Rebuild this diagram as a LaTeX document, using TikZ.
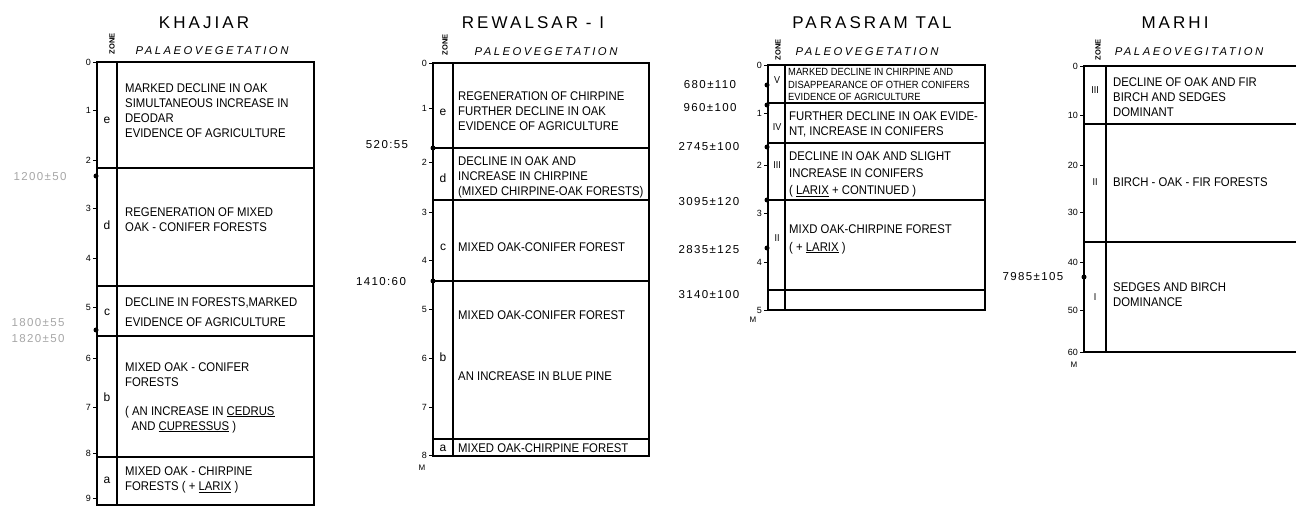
\documentclass[tikz,border=0pt]{standalone}
\usepackage{fontspec}
\setmainfont{Liberation Sans}
\newfontfamily\titlefont[LetterSpace=18]{Liberation Sans}
\newfontfamily\vegfont[LetterSpace=22]{Liberation Sans}
\newfontfamily\datefont[LetterSpace=12]{Liberation Sans}
\newfontfamily\bodyfont[FakeStretch=0.9]{Liberation Sans}
\begin{document}
\begin{tikzpicture}[x=1pt,y=-1pt,
  box/.style={line width=1.3pt},
  title/.style={font=\titlefont\fontsize{17}{19}\selectfont, inner sep=0},
  veg/.style={font=\vegfont\itshape\fontsize{11.3}{13}\selectfont, inner sep=0},
  zonelab/.style={font=\bfseries\fontsize{7.5}{8}\selectfont, rotate=90, inner sep=0},
  tl/.style={font=\fontsize{9}{10}\selectfont, anchor=east, inner sep=0},
  zl/.style={font=\fontsize{12}{13}\selectfont, inner sep=0},
  szl/.style={font=\bodyfont\fontsize{10}{11}\selectfont, inner sep=0},
  txt/.style={font=\bodyfont\fontsize{12.6}{15}\selectfont, anchor=west, align=left, inner sep=0},
  stxt/.style={font=\bodyfont\fontsize{10.4}{12.5}\selectfont, anchor=west, align=left, inner sep=0},
  date/.style={font=\datefont\fontsize{11.5}{12}\selectfont, inner sep=0},
  fdate/.style={date, text=black!35},
  dot/.style={circle, fill, inner sep=0, minimum size=5pt},
  mlab/.style={font=\fontsize{8}{9}\selectfont, inner sep=0}]
\useasboundingbox (0,0) rectangle (1298,510);

% ================= KHAJIAR =================
\node[title] (t1) at (204,23) {KHAJIAR};
\node[zonelab] (z1) at (112,44) {ZONE};
\node[veg] (v1) at (212,51) {PALAEOVEGETATION};
\draw[box] (97,62) rectangle (314,505);
\draw[box] (117,62) -- (117,505);
\foreach \y in {168,286,336,457} \draw[box] (97,\y) -- (314,\y);
\foreach \y/\l [count=\i] in {62/0,110/1,160/2,208/3,258/4,307/5,358/6,407/7,453/8,498/9}{
  \draw[line width=0.8pt] (93,\y) -- (97,\y);
  \node[tl] (kt\i) at (91,\y) {\l};
}
\node[zl] (kz5) at (107,120) {e};
\node[zl] (kz4) at (107,225) {d};
\node[zl] (kz3) at (107,312) {c};
\node[zl] (kz2) at (107,397) {b};
\node[zl] (kz1) at (107,480) {a};
\node[txt] (kv5) at (125,110.5) {MARKED DECLINE IN OAK\\SIMULTANEOUS INCREASE IN\\DEODAR\\EVIDENCE OF AGRICULTURE};
\node[txt] (kv4) at (125,219.5) {REGENERATION OF MIXED\\OAK - CONIFER FORESTS};
\node[txt, font=\bodyfont\fontsize{12.6}{20}\selectfont] (kv3) at (125,312) {DECLINE IN FORESTS,MARKED\\EVIDENCE OF AGRICULTURE};
\node[txt] (kv2) at (125,397.5) {MIXED OAK - CONIFER\\FORESTS\\[14pt]( AN INCREASE IN \underline{CEDRUS}\\\ \ AND \underline{CUPRESSUS} )};
\node[txt] (kv1) at (125,480) {MIXED OAK - CHIRPINE\\FORESTS ( + \underline{LARIX} )};
\node[fdate] (kd1) at (40,177) {1200±50};
\node[fdate] (kd2) at (38,323) {1800±55};
\node[fdate] (kd3) at (38,339) {1820±50};
\node[dot] (kp1) at (96,176) {};
\node[dot] (kp2) at (96,330) {};

% ================= REWALSAR-I =================
\node[title] (t2) at (533,23) {REWALSAR - I};
\node[zonelab] (z2) at (445,45) {ZONE};
\node[veg] (v2) at (546,52) {PALEOVEGETATION};
\draw[box] (433,63) rectangle (649,456);
\draw[box] (453,63) -- (453,456);
\foreach \y in {148,200,281,439} \draw[box] (433,\y) -- (649,\y);
\foreach \y/\l [count=\i] in {63/0,108/1,162/2,212/3,260/4,309/5,358/6,407/7,455/8}{
  \draw[line width=0.8pt] (429,\y) -- (433,\y);
  \node[tl] (rt\i) at (427,\y) {\l};
}
\node[mlab] (rm) at (422,468) {M};
\node[zl] (rz5) at (443,112) {e};
\node[zl] (rz4) at (443,178) {d};
\node[zl] (rz3) at (443,247) {c};
\node[zl] (rz2) at (443,357) {b};
\node[zl] (rz1) at (443,448) {a};
\node[txt] (rv5) at (458,111.5) {REGENERATION OF CHIRPINE\\FURTHER DECLINE IN OAK\\EVIDENCE OF AGRICULTURE};
\node[txt] (rv4) at (458,177.5) {DECLINE IN OAK AND\\INCREASE IN CHIRPINE\\(MIXED CHIRPINE-OAK FORESTS)};
\node[txt] (rv3) at (458,247) {MIXED OAK-CONIFER FOREST};
\node[txt] (rv2a) at (458,315) {MIXED OAK-CONIFER FOREST};
\node[txt] (rv2b) at (458,376) {AN INCREASE IN BLUE PINE};
\node[txt] (rv1) at (458,448) {MIXED OAK-CHIRPINE FOREST};
\node[date] (rd1) at (387,145) {520:55};
\node[date] (rd2) at (381,282) {1410:60};
\node[dot] (rp1) at (433,148) {};
\node[dot] (rp2) at (433,281) {};

% ================= PARASRAM TAL =================
\node[title] (t3) at (872,23) {PARASRAM TAL};
\node[zonelab] (z3) at (778,50) {ZONE};
\node[veg] (v3) at (867,52) {PALEOVEGETATION};
\draw[box] (768,65) rectangle (985,310);
\draw[box] (785,65) -- (785,310);
\foreach \y in {103,143,200,290} \draw[box] (768,\y) -- (985,\y);
\foreach \y/\l [count=\i] in {65/0,113/1,165/2,213/3,262/4,310/5}{
  \draw[line width=0.8pt] (764,\y) -- (768,\y);
  \node[tl] (pt\i) at (762,\y) {\l};
}
\node[mlab] (pm) at (753,320) {M};
\node[szl] (pz5) at (777,80) {V};
\node[szl] (pz4) at (777,127) {IV};
\node[szl] (pz3) at (777,165) {III};
\node[szl] (pz2) at (777,238) {II};
\node[stxt] (pv5) at (788,84.5) {MARKED DECLINE IN CHIRPINE AND\\DISAPPEARANCE OF OTHER CONIFERS\\EVIDENCE OF AGRICULTURE};
\node[txt] (pv4) at (789,124.5) {FURTHER DECLINE IN OAK EVIDE-\\NT, INCREASE IN CONIFERS};
\node[txt, font=\bodyfont\fontsize{12.6}{17}\selectfont] (pv3) at (789,174.5) {DECLINE IN OAK AND SLIGHT\\INCREASE IN CONIFERS\\( \underline{LARIX} + CONTINUED )};
\node[txt, font=\bodyfont\fontsize{12.6}{18}\selectfont] (pv2) at (789,239) {MIXD OAK-CHIRPINE FOREST\\( + \underline{LARIX} )};
\node[date] (pd1) at (710,85) {680±110};
\node[date] (pd2) at (710,108) {960±100};
\node[date] (pd3) at (709,147) {2745±100};
\node[date] (pd4) at (709,202) {3095±120};
\node[date] (pd5) at (709,250) {2835±125};
\node[date] (pd6) at (709,295) {3140±100};
\node[dot] (pp1) at (767,85) {};
\node[dot] (pp2) at (767,105) {};
\node[dot] (pp3) at (767,147) {};
\node[dot] (pp4) at (767,200) {};
\node[dot] (pp5) at (767,248) {};

% ================= MARHI =================
\node[title] (t4) at (1175,23) {MARHI};
\node[zonelab] (z4) at (1098,50) {ZONE};
\node[veg] (v4) at (1189,52) {PALAEOVEGITATION};
\draw[box] (1296,66) -- (1084,66) -- (1084,352) -- (1296,352);
\draw[box] (1106,66) -- (1106,352);
\foreach \y in {124,242} \draw[box] (1084,\y) -- (1296,\y);
\foreach \y/\l [count=\i] in {66/0,115/10,165/20,212/30,262/40,310/50,352/60}{
  \draw[line width=0.8pt] (1080,\y) -- (1084,\y);
  \node[tl] (mt\i) at (1078,\y) {\l};
}
\node[mlab] (mm) at (1074,365) {M};
\node[szl] (mz3) at (1095,90) {III};
\node[szl] (mz2) at (1095,182) {II};
\node[szl] (mz1) at (1095,297) {I};
\node[txt] (mv3) at (1113,97) {DECLINE OF OAK AND FIR\\BIRCH AND SEDGES\\DOMINANT};
\node[txt] (mv2) at (1113,182) {BIRCH - OAK - FIR FORESTS};
\node[txt] (mv1) at (1113,295) {SEDGES AND BIRCH\\DOMINANCE};
\node[date] (md1) at (1033,277) {7985±105};
\node[dot] (mp1) at (1084,277) {};
\end{tikzpicture}
\end{document}
